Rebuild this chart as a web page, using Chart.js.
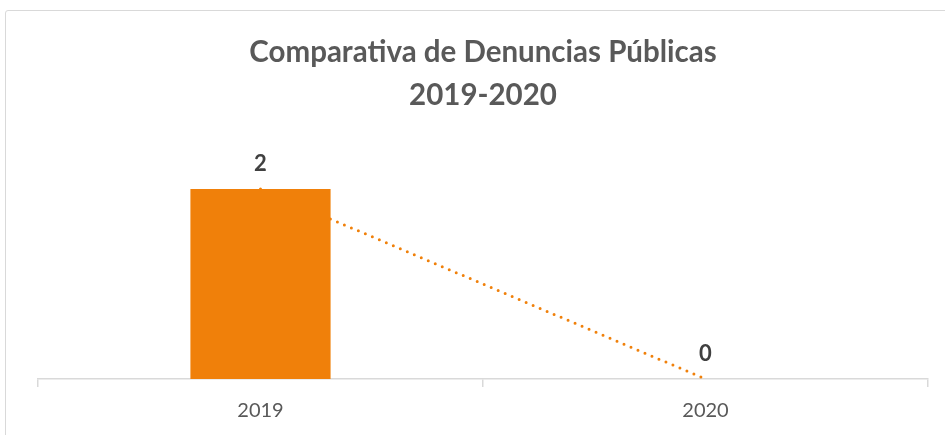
<!DOCTYPE html>
<html>
<head>
<meta charset="utf-8">
<script src="https://cdn.jsdelivr.net/npm/chart.js@4"></script>
<style>
  html, body { margin: 0; padding: 0; background: #fff; overflow: hidden; }
  #wrap { position: relative; width: 945px; height: 435px; }
  #frame { position: absolute; left: 5px; top: 10px; width: 960px; height: 460px; border: 1px solid #d9d9d9; border-radius: 3px; }
  canvas { position: absolute; left: 0; top: 0; }
</style>
</head>
<body>
<div id="wrap">
  <div id="frame"></div>
  <canvas id="chart" width="945" height="435"></canvas>
</div>
<script>
const years = ["2019", "2020"];
const denuncias = [2, 0];
const titleLines = ["Comparativa de Denuncias Públicas", "2019-2020"];

const orange = "#F0800A";

// values above each bar, like the Excel data labels
const barLabels = {
  id: "barLabels",
  afterDatasetsDraw(chart) {
    const ctx = chart.ctx;
    const meta = chart.getDatasetMeta(0);
    ctx.save();
    ctx.font = "bold 22px Lato";
    ctx.fillStyle = "#404040";
    ctx.textAlign = "center";
    ctx.textBaseline = "middle";
    meta.data.forEach((bar, i) => {
      ctx.fillText(String(denuncias[i]), bar.x, bar.y - 25);
    });
    ctx.restore();
  }
};

new Chart(document.getElementById("chart"), {
  data: {
    labels: years,
    datasets: [
      {
        type: "bar",
        data: denuncias,
        backgroundColor: orange,
        categoryPercentage: 1,
        barPercentage: 0.315,
        order: 1
      },
      {
        type: "line",
        data: denuncias,
        borderColor: orange,
        borderWidth: 3,
        borderDash: [0, 7.6],
        borderCapStyle: "round",
        pointRadius: 0,
        tension: 0,
        order: 2
      }
    ]
  },
  options: {
    responsive: false,
    animation: false,
    layout: { padding: { left: 38, right: 17, bottom: 0 } },
    plugins: {
      legend: { display: false },
      tooltip: { enabled: false },
      title: {
        display: true,
        text: titleLines,
        color: "#595959",
        font: { family: "Lato", size: 29.5, weight: "bold", lineHeight: 1.46 },
        padding: { top: 30.5, bottom: 25 }
      }
    },
    scales: {
      x: {
        offset: true,
        grid: {
          offset: true,
          drawOnChartArea: false,
          drawTicks: true,
          tickLength: 8,
          color: "#d9d9d9",
          lineWidth: 1.5
        },
        border: { color: "#d9d9d9", width: 1.5 },
        ticks: {
          color: "#595959",
          font: { family: "Lato", size: 20 },
          padding: 12
        }
      },
      y: {
        display: false,
        min: 0,
        max: 2.5
      }
    }
  },
  plugins: [barLabels]
});
</script>
</body>
</html>
